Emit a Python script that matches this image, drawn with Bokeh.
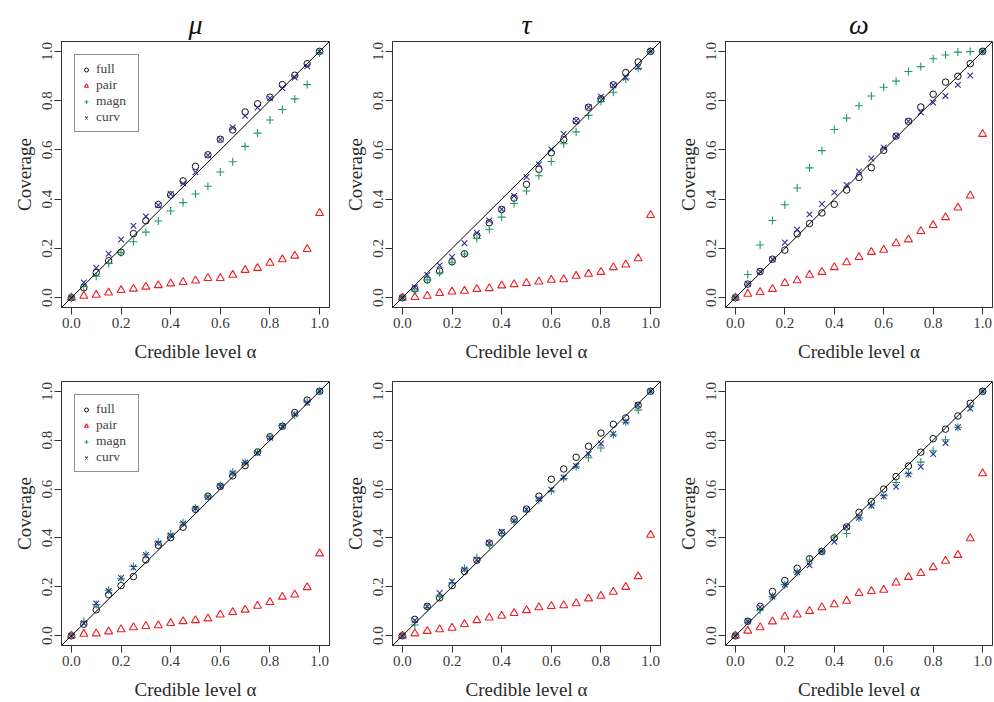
from bokeh.plotting import figure
from bokeh.layouts import column, row
from bokeh.models import Range1d, FixedTicker, PrintfTickFormatter, Slope
from bokeh.embed import file_html
from bokeh.resources import INLINE

FONT = "Liberation Serif"

# credible levels
alpha = [0.0, 0.05, 0.10, 0.15, 0.20, 0.25, 0.30, 0.35, 0.40, 0.45, 0.50,
         0.55, 0.60, 0.65, 0.70, 0.75, 0.80, 0.85, 0.90, 0.95, 1.0]
tick_values = [0.0, 0.2, 0.4, 0.6, 0.8, 1.0]
methods = ["full", "pair", "magn", "curv"]
titles = ["\u03bc", "\u03c4", "\u03c9"]

# top row, mu
mu1_full = [0, 0.04, 0.102, 0.15, 0.184, 0.26, 0.312, 0.378, 0.417, 0.474, 0.533, 0.58, 0.643, 0.681, 0.754, 0.787, 0.814, 0.865, 0.903, 0.95, 1.0]
mu1_pair = [0, 0.007, 0.011, 0.02, 0.03, 0.036, 0.044, 0.05, 0.057, 0.063, 0.069, 0.079, 0.079, 0.092, 0.112, 0.12, 0.141, 0.155, 0.17, 0.197, 0.343]
mu1_magn = [0, 0.045, 0.087, 0.139, 0.183, 0.227, 0.266, 0.311, 0.352, 0.386, 0.421, 0.452, 0.51, 0.552, 0.614, 0.668, 0.721, 0.764, 0.807, 0.865, 0.993]
mu1_curv = [0, 0.062, 0.121, 0.178, 0.236, 0.292, 0.33, 0.375, 0.421, 0.463, 0.509, 0.578, 0.642, 0.691, 0.738, 0.772, 0.81, 0.85, 0.894, 0.939, 1.0]

# top row, tau
tau1_full = [0, 0.035, 0.072, 0.108, 0.146, 0.178, 0.252, 0.304, 0.358, 0.404, 0.46, 0.521, 0.588, 0.641, 0.718, 0.773, 0.807, 0.864, 0.914, 0.957, 1.0]
tau1_pair = [0, 0.002, 0.007, 0.018, 0.024, 0.027, 0.035, 0.038, 0.049, 0.054, 0.059, 0.065, 0.072, 0.074, 0.088, 0.096, 0.104, 0.123, 0.134, 0.159, 0.335]
tau1_magn = [0, 0.027, 0.072, 0.101, 0.144, 0.177, 0.24, 0.278, 0.327, 0.382, 0.433, 0.495, 0.553, 0.625, 0.673, 0.74, 0.796, 0.834, 0.888, 0.931, 1.0]
tau1_curv = [0, 0.042, 0.092, 0.131, 0.165, 0.221, 0.263, 0.313, 0.359, 0.413, 0.49, 0.541, 0.602, 0.665, 0.718, 0.773, 0.816, 0.862, 0.893, 0.935, 1.0]

# top row, omega
om1_full = [0, 0.055, 0.106, 0.156, 0.193, 0.259, 0.301, 0.344, 0.379, 0.437, 0.488, 0.528, 0.598, 0.656, 0.716, 0.774, 0.826, 0.875, 0.899, 0.95, 1.0]
om1_pair = [0, 0.015, 0.022, 0.035, 0.059, 0.07, 0.092, 0.104, 0.123, 0.143, 0.164, 0.185, 0.194, 0.22, 0.236, 0.27, 0.294, 0.326, 0.365, 0.414, 0.664]
om1_magn = [0, 0.094, 0.214, 0.313, 0.377, 0.445, 0.527, 0.597, 0.683, 0.729, 0.779, 0.819, 0.854, 0.879, 0.918, 0.938, 0.97, 0.985, 0.997, 0.999, 1.0]
om1_curv = [0, 0.057, 0.106, 0.156, 0.224, 0.276, 0.338, 0.38, 0.427, 0.458, 0.512, 0.565, 0.609, 0.656, 0.716, 0.753, 0.792, 0.819, 0.864, 0.902, 1.0]

# bottom row, mu
mu2_full = [0, 0.047, 0.106, 0.168, 0.205, 0.242, 0.31, 0.37, 0.401, 0.444, 0.517, 0.571, 0.611, 0.654, 0.696, 0.752, 0.814, 0.857, 0.913, 0.964, 1.0]
mu2_pair = [0, 0.007, 0.009, 0.017, 0.026, 0.034, 0.039, 0.042, 0.051, 0.059, 0.063, 0.07, 0.086, 0.096, 0.106, 0.122, 0.137, 0.159, 0.168, 0.198, 0.336]
mu2_magn = [0, 0.058, 0.128, 0.186, 0.233, 0.283, 0.331, 0.384, 0.416, 0.462, 0.522, 0.571, 0.615, 0.67, 0.709, 0.752, 0.814, 0.859, 0.902, 0.956, 1.0]
mu2_curv = [0, 0.051, 0.132, 0.183, 0.236, 0.279, 0.33, 0.378, 0.41, 0.459, 0.521, 0.568, 0.612, 0.666, 0.709, 0.747, 0.81, 0.857, 0.906, 0.953, 1.0]

# bottom row, tau
tau2_full = [0, 0.067, 0.12, 0.155, 0.205, 0.263, 0.309, 0.379, 0.42, 0.477, 0.518, 0.571, 0.64, 0.682, 0.73, 0.775, 0.829, 0.865, 0.891, 0.943, 1.0]
tau2_pair = [0, 0.009, 0.019, 0.026, 0.032, 0.047, 0.063, 0.074, 0.081, 0.092, 0.104, 0.116, 0.121, 0.124, 0.132, 0.152, 0.163, 0.179, 0.199, 0.243, 0.412]
tau2_magn = [0, 0.044, 0.115, 0.16, 0.217, 0.276, 0.319, 0.371, 0.418, 0.468, 0.508, 0.554, 0.592, 0.643, 0.691, 0.728, 0.768, 0.822, 0.873, 0.923, 1.0]
tau2_curv = [0, 0.063, 0.12, 0.175, 0.222, 0.271, 0.311, 0.379, 0.425, 0.47, 0.516, 0.559, 0.597, 0.647, 0.694, 0.744, 0.786, 0.825, 0.876, 0.943, 1.0]

# bottom row, omega
om2_full = [0, 0.059, 0.12, 0.181, 0.226, 0.276, 0.315, 0.345, 0.4, 0.445, 0.505, 0.549, 0.6, 0.651, 0.694, 0.751, 0.806, 0.845, 0.899, 0.951, 1.0]
om2_pair = [0, 0.02, 0.034, 0.058, 0.078, 0.086, 0.101, 0.116, 0.128, 0.142, 0.174, 0.182, 0.187, 0.217, 0.24, 0.256, 0.28, 0.306, 0.33, 0.398, 0.664]
om2_magn = [0, 0.059, 0.104, 0.16, 0.209, 0.26, 0.31, 0.344, 0.404, 0.418, 0.482, 0.535, 0.573, 0.627, 0.663, 0.71, 0.757, 0.802, 0.853, 0.937, 1.0]
om2_curv = [0, 0.059, 0.117, 0.16, 0.209, 0.26, 0.288, 0.344, 0.384, 0.445, 0.482, 0.532, 0.57, 0.609, 0.66, 0.691, 0.743, 0.788, 0.853, 0.929, 1.0]

C_FULL = "#111111"
C_PAIR = "#ee1c25"
C_MAGN = "#1f9a5e"
C_CURV = "#2e2e9e"
TEXT = "#2a2a2a"


def panel(title, full, pair, magn, curv, width, height, ml, mr, mt, mb, legend):
    kw = dict(width=width, height=height,
              x_range=Range1d(-0.04, 1.04), y_range=Range1d(-0.04, 1.04),
              output_backend="svg", toolbar_location=None,
              min_border_left=ml, min_border_right=mr,
              min_border_top=mt, min_border_bottom=mb)
    if title is not None:
        kw["title"] = title
    p = figure(**kw)
    p.background_fill_color = "white"
    p.border_fill_color = "white"
    p.grid.visible = False
    p.outline_line_color = "#333333"
    p.outline_line_width = 1
    p.outline_line_alpha = 1.0

    if title is not None:
        p.title.align = "center"
        p.title.text_font = FONT
        p.title.text_font_style = "italic"
        p.title.text_font_size = "28px"
        p.title.text_color = "#111111"
        p.title.standoff = 4

    for ax in (p.xaxis, p.yaxis):
        ax.ticker = FixedTicker(ticks=tick_values)
        ax.formatter = PrintfTickFormatter(format="%.1f")
        ax.major_tick_in = 0
        ax.major_tick_out = 7
        ax.minor_tick_line_color = None
        ax.axis_line_color = "#333333"
        ax.major_tick_line_color = "#333333"
        ax.major_label_text_font = FONT
        ax.major_label_text_font_size = "15px"
        ax.major_label_text_color = "#3a3a3a"
        ax.axis_label_text_font = FONT
        ax.axis_label_text_font_size = "19px"
        ax.axis_label_text_font_style = "normal"
        ax.axis_label_text_color = TEXT
    p.xaxis.axis_label = "Credible level \u03b1"
    p.yaxis.axis_label = "Coverage"
    p.xaxis.major_label_standoff = 3
    p.xaxis.axis_label_standoff = 10
    p.yaxis.major_label_standoff = 2
    p.yaxis.axis_label_standoff = 5
    p.yaxis.major_label_orientation = "vertical"

    p.add_layout(Slope(gradient=1, y_intercept=0, line_color="black", line_width=1))

    lab = (lambda s: dict(legend_label=s)) if legend else (lambda s: {})
    p.scatter(alpha, full, marker="circle", size=6.5, fill_color=None,
              line_color=C_FULL, line_width=1, **lab("full"))
    p.scatter(alpha, pair, marker="triangle", size=8, fill_color=None,
              line_color=C_PAIR, line_width=1.1, **lab("pair"))
    p.scatter(alpha, magn, marker="cross", size=8, fill_color=None,
              line_color=C_MAGN, line_width=1.1, **lab("magn"))
    p.scatter(alpha, curv, marker="x", size=8, fill_color=None,
              line_color=C_CURV, line_width=1.1, **lab("curv"))

    if legend:
        lg = p.legend[0]
        lg.location = "top_left"
        lg.margin = 13
        lg.padding = 6
        lg.spacing = 0
        lg.glyph_width = 10
        lg.glyph_height = 13
        lg.label_height = 13
        lg.label_width = 36
        lg.label_standoff = 5
        lg.label_text_font = FONT
        lg.label_text_font_size = "13.5px"
        lg.label_text_line_height = 0.9
        lg.label_text_color = "#444444"
        lg.border_line_color = "#222222"
        lg.border_line_width = 1
        lg.background_fill_alpha = 1.0
    return p


top = row(
    panel(titles[0], mu1_full, mu1_pair, mu1_magn, mu1_curv, 336, 365, 61, 7, 41, 58, True),
    panel(titles[1], tau1_full, tau1_pair, tau1_magn, tau1_curv, 332, 365, 56, 8, 41, 58, False),
    panel(titles[2], om1_full, om1_pair, om1_magn, om1_curv, 326, 365, 57, 2, 41, 58, False),
)
bottom = row(
    panel(None, mu2_full, mu2_pair, mu2_magn, mu2_curv, 336, 337, 61, 7, 16, 54, True),
    panel(None, tau2_full, tau2_pair, tau2_magn, tau2_curv, 332, 337, 56, 8, 16, 54, False),
    panel(None, om2_full, om2_pair, om2_magn, om2_curv, 326, 337, 57, 2, 16, 54, False),
)
layout = column(top, bottom)

open("out.html", "w").write(file_html(layout, INLINE))
